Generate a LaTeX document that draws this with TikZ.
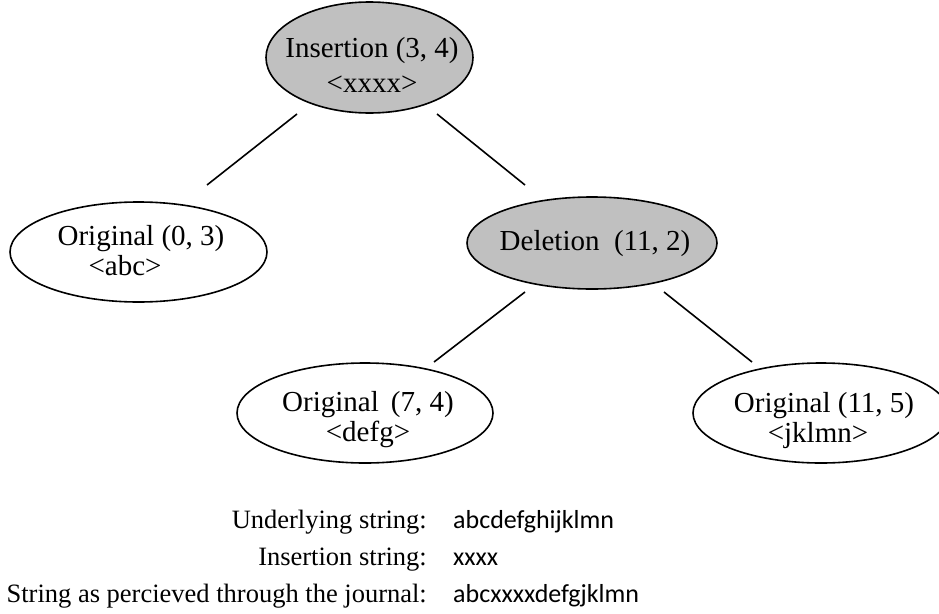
\documentclass[tikz,border=0pt]{standalone}
\usepackage{fontspec}
\setmainfont{Liberation Serif}
\newfontfamily\valuefont{Carlito}
\usetikzlibrary{shapes.geometric}
\definecolor{opgray}{HTML}{C0C0C0}
\begin{document}
\begin{tikzpicture}[x=1pt,y=-1pt,
  piece/.style={ellipse, draw=black, line width=1.6pt, inner sep=0pt},
  oppiece/.style={piece, fill=opgray},
  txt/.style={anchor=base, inner sep=0pt, font=\fontsize{29}{34}\selectfont},
  link/.style={line width=1.6pt},
  lbl/.style={anchor=base east, inner sep=0pt, font=\fontsize{26.5}{30}\selectfont},
  val/.style={anchor=base west, inner sep=0pt, font=\valuefont\fontsize{26}{30}\selectfont}]
\useasboundingbox (0,0) rectangle (939,613);
\clip (0,0) rectangle (939,613);

% piece-table tree
\node[oppiece, minimum width=207, minimum height=111] (ins) at (369.5,57.5) {};
\node[piece, minimum width=257, minimum height=100] (o1) at (138.5,252) {};
\node[oppiece, minimum width=250, minimum height=92] (del) at (592,243) {};
\node[piece, minimum width=256, minimum height=100] (o2) at (365,413) {};
\node[piece, minimum width=256, minimum height=100] (o3) at (821,413) {};

\node[txt] (insa) at (372,57) {Insertion (3, 4)};
\node[txt] (insb) at (372,92) {<xxxx>};
\node[txt] (o1a) at (141,245) {Original (0, 3)};
\node[txt] (o1b) at (125,275) {<abc>};
\node[txt] (dela) at (595,250) {Deletion\ \ (11, 2)};
\node[txt] (o2a) at (368,411) {Original\,\ (7, 4)};
\node[txt] (o2b) at (368,441) {<defg>};
\node[txt] (o3a) at (824,412) {Original (11, 5)};
\node[txt] (o3b) at (818,442) {<jklmn>};

% connector end points
\coordinate (l1a) at (297,114);
\coordinate (l1b) at (207,185);
\coordinate (l2a) at (437,114);
\coordinate (l2b) at (525,185);
\coordinate (l3a) at (525,292);
\coordinate (l3b) at (434,362);
\coordinate (l4a) at (664,292);
\coordinate (l4b) at (752,362);
\draw[link] (l1a) -- (l1b);
\draw[link] (l2a) -- (l2b);
\draw[link] (l3a) -- (l3b);
\draw[link] (l4a) -- (l4b);

% legend
\node[lbl] (k1) at (427,528) {Underlying string:};
\node[lbl] (k2) at (427,565) {Insertion string:};
\node[lbl] (k3) at (427,602) {String as percieved through the journal:};
\node[val] (v1) at (453,528) {abcdefghijklmn};
\node[val] (v2) at (453,565) {xxxx};
\node[val] (v3) at (453,602) {abcxxxxdefgjklmn};
\end{tikzpicture}
\end{document}
